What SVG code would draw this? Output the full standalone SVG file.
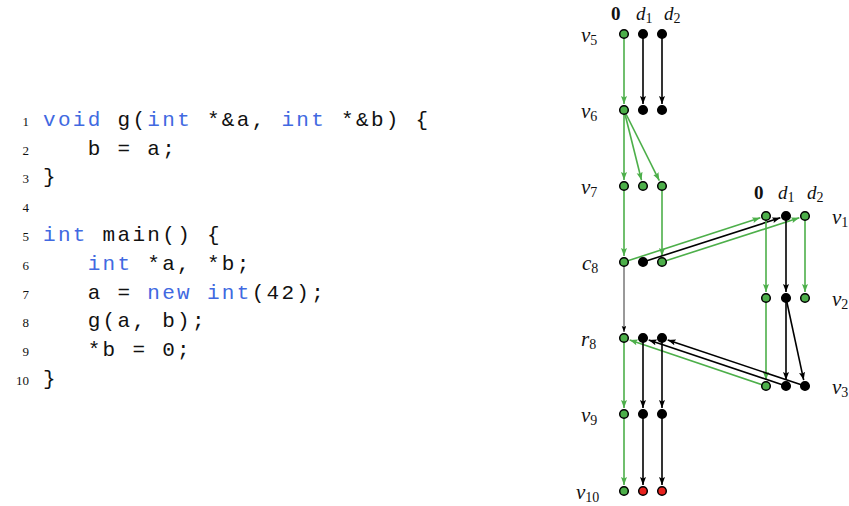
<svg xmlns="http://www.w3.org/2000/svg" width="849" height="506" viewBox="0 0 849 506">
<defs>
<style>
.code{font-family:"Liberation Mono",monospace;font-size:21px;letter-spacing:2.3px;fill:#111}
.kw{fill:#4169E1}
.ln{font-family:"Liberation Serif",serif;font-size:13px;fill:#111;text-anchor:end}
.lab{font-family:"Liberation Serif",serif;font-style:italic;font-size:21px;fill:#111}
.sub{font-style:normal;font-size:14px}
.hd{font-family:"Liberation Serif",serif;font-size:19px;fill:#111}
.hb{font-weight:bold;font-style:normal}
.hi{font-style:italic}
.g{stroke:#4DAF4A;stroke-width:1.6;fill:none;marker-end:url(#ag)}
.k{stroke:#000;stroke-width:1.6;fill:none;marker-end:url(#ak)}
.kt{stroke:#000;stroke-width:0.8;fill:none;marker-end:url(#akt)}
.ng{fill:#4DAF4A;stroke:#000;stroke-width:1.5}
.nk{fill:#000;stroke:#000;stroke-width:1.5}
.nr{fill:#E8221E;stroke:#000;stroke-width:1.5}
</style>
<marker id="ag" markerUnits="userSpaceOnUse" markerWidth="10" markerHeight="8" refX="8" refY="3" orient="auto"><path d="M0,0 L8,3 L0,6 L1.5,3 z" fill="#4DAF4A"/></marker>
<marker id="ak" markerUnits="userSpaceOnUse" markerWidth="10" markerHeight="8" refX="8" refY="3" orient="auto"><path d="M0,0 L8,3 L0,6 L1.5,3 z" fill="#000"/></marker>
<marker id="akt" markerUnits="userSpaceOnUse" markerWidth="8" markerHeight="6" refX="6" refY="2.25" orient="auto"><path d="M0,0 L6,2.25 L0,4.5 L1,2.25 z" fill="#000"/></marker>
</defs>
<rect width="849" height="506" fill="#fff"/>

<g id="code">
<text class="ln" x="29" y="126">1</text>
<text class="ln" x="29" y="155">2</text>
<text class="ln" x="29" y="183">3</text>
<text class="ln" x="29" y="212">4</text>
<text class="ln" x="29" y="241">5</text>
<text class="ln" x="29" y="270">6</text>
<text class="ln" x="29" y="299">7</text>
<text class="ln" x="29" y="327">8</text>
<text class="ln" x="29" y="356">9</text>
<text class="ln" x="29" y="385">10</text>
<text class="code" x="43" y="126" xml:space="preserve"><tspan class="kw">void</tspan> g(<tspan class="kw">int</tspan> *&amp;a, <tspan class="kw">int</tspan> *&amp;b) {</text>
<text class="code" x="87.7" y="155" xml:space="preserve">b = a;</text>
<text class="code" x="43" y="183">}</text>
<text class="code" x="43" y="241" xml:space="preserve"><tspan class="kw">int</tspan> main() {</text>
<text class="code" x="87.7" y="270" xml:space="preserve"><tspan class="kw">int</tspan> *a, *b;</text>
<text class="code" x="87.7" y="299" xml:space="preserve">a = <tspan class="kw">new</tspan> <tspan class="kw">int</tspan>(42);</text>
<text class="code" x="87.7" y="327" xml:space="preserve">g(a, b);</text>
<text class="code" x="87.7" y="356" xml:space="preserve">*b = 0;</text>
<text class="code" x="43" y="385">}</text>
</g>

<g id="labels">
<text class="hd" x="611" y="20"><tspan class="hb">0</tspan></text>
<text class="hd hi" x="636" y="20">d<tspan class="sub" dy="3">1</tspan></text>
<text class="hd hi" x="664" y="20">d<tspan class="sub" dy="3">2</tspan></text>
<text class="hd" x="754" y="199"><tspan class="hb">0</tspan></text>
<text class="hd hi" x="778" y="199">d<tspan class="sub" dy="3">1</tspan></text>
<text class="hd hi" x="807" y="199">d<tspan class="sub" dy="3">2</tspan></text>
<text class="lab" x="581" y="42">v<tspan class="sub" dy="3">5</tspan></text>
<text class="lab" x="581" y="118">v<tspan class="sub" dy="3">6</tspan></text>
<text class="lab" x="581" y="194">v<tspan class="sub" dy="3">7</tspan></text>
<text class="lab" x="582" y="270">c<tspan class="sub" dy="3">8</tspan></text>
<text class="lab" x="581" y="346">r<tspan class="sub" dy="3">8</tspan></text>
<text class="lab" x="581" y="422">v<tspan class="sub" dy="3">9</tspan></text>
<text class="lab" x="576" y="499">v<tspan class="sub" dy="3">10</tspan></text>
<text class="lab" x="832" y="224">v<tspan class="sub" dy="3">1</tspan></text>
<text class="lab" x="832" y="306">v<tspan class="sub" dy="3">2</tspan></text>
<text class="lab" x="832" y="394">v<tspan class="sub" dy="3">3</tspan></text>
</g>

<g id="connectors">
<line class="g" x1="624" y1="34" x2="624" y2="104"/>
<line class="k" x1="643" y1="34" x2="643" y2="104"/>
<line class="k" x1="662" y1="34" x2="662" y2="104"/>
<line class="g" x1="624" y1="110" x2="624" y2="180"/>
<line class="g" x1="624" y1="110" x2="641.5" y2="180.2"/>
<line class="g" x1="624" y1="110" x2="659.3" y2="180.6"/>
<line class="g" x1="624" y1="186" x2="624" y2="256"/>
<line class="g" x1="662" y1="186" x2="662" y2="256"/>
<line class="g" x1="624" y1="262" x2="760.3" y2="217.8"/>
<line class="k" x1="643" y1="262" x2="780.3" y2="217.8"/>
<line class="g" x1="662" y1="262" x2="799.3" y2="217.8"/>
<line class="kt" x1="624" y1="262" x2="624" y2="332"/>
<line class="g" x1="766" y1="216" x2="766" y2="292"/>
<line class="k" x1="786" y1="216" x2="786" y2="292"/>
<line class="g" x1="805" y1="216" x2="805" y2="292"/>
<line class="g" x1="766" y1="298" x2="766" y2="380"/>
<line class="k" x1="786" y1="298" x2="786" y2="380"/>
<line class="k" x1="786" y1="298" x2="803.7" y2="380.1"/>
<line class="g" x1="766" y1="386" x2="629.7" y2="339.9"/>
<line class="k" x1="786" y1="386" x2="648.7" y2="339.9"/>
<line class="k" x1="805" y1="386" x2="667.7" y2="339.9"/>
<line class="g" x1="624" y1="338" x2="624" y2="408"/>
<line class="k" x1="643" y1="338" x2="643" y2="408"/>
<line class="k" x1="662" y1="338" x2="662" y2="408"/>
<line class="g" x1="624" y1="414" x2="624" y2="485"/>
<line class="k" x1="643" y1="414" x2="643" y2="485"/>
<line class="k" x1="662" y1="414" x2="662" y2="485"/>
</g>

<g id="v5-0"><circle class="ng" cx="624" cy="34" r="4.3"/></g>
<g id="v5-d1"><circle class="nk" cx="643" cy="34" r="4.3"/></g>
<g id="v5-d2"><circle class="nk" cx="662" cy="34" r="4.3"/></g>
<g id="v6-0"><circle class="ng" cx="624" cy="110" r="4.3"/></g>
<g id="v6-d1"><circle class="nk" cx="643" cy="110" r="4.3"/></g>
<g id="v6-d2"><circle class="nk" cx="662" cy="110" r="4.3"/></g>
<g id="v7-0"><circle class="ng" cx="624" cy="186" r="4.3"/></g>
<g id="v7-d1"><circle class="ng" cx="643" cy="186" r="4.3"/></g>
<g id="v7-d2"><circle class="ng" cx="662" cy="186" r="4.3"/></g>
<g id="c8-0"><circle class="ng" cx="624" cy="262" r="4.3"/></g>
<g id="c8-d1"><circle class="nk" cx="643" cy="262" r="4.3"/></g>
<g id="c8-d2"><circle class="ng" cx="662" cy="262" r="4.3"/></g>
<g id="r8-0"><circle class="ng" cx="624" cy="338" r="4.3"/></g>
<g id="r8-d1"><circle class="nk" cx="643" cy="338" r="4.3"/></g>
<g id="r8-d2"><circle class="nk" cx="662" cy="338" r="4.3"/></g>
<g id="v9-0"><circle class="ng" cx="624" cy="414" r="4.3"/></g>
<g id="v9-d1"><circle class="nk" cx="643" cy="414" r="4.3"/></g>
<g id="v9-d2"><circle class="nk" cx="662" cy="414" r="4.3"/></g>
<g id="v10-0"><circle class="ng" cx="624" cy="491" r="4.3"/></g>
<g id="v10-d1"><circle class="nr" cx="643" cy="491" r="4.3"/></g>
<g id="v10-d2"><circle class="nr" cx="662" cy="491" r="4.3"/></g>
<g id="v1-0"><circle class="ng" cx="766" cy="216" r="4.3"/></g>
<g id="v1-d1"><circle class="nk" cx="786" cy="216" r="4.3"/></g>
<g id="v1-d2"><circle class="ng" cx="805" cy="216" r="4.3"/></g>
<g id="v2-0"><circle class="ng" cx="766" cy="298" r="4.3"/></g>
<g id="v2-d1"><circle class="nk" cx="786" cy="298" r="4.3"/></g>
<g id="v2-d2"><circle class="ng" cx="805" cy="298" r="4.3"/></g>
<g id="v3-0"><circle class="ng" cx="766" cy="386" r="4.3"/></g>
<g id="v3-d1"><circle class="nk" cx="786" cy="386" r="4.3"/></g>
<g id="v3-d2"><circle class="nk" cx="805" cy="386" r="4.3"/></g>
</svg>
